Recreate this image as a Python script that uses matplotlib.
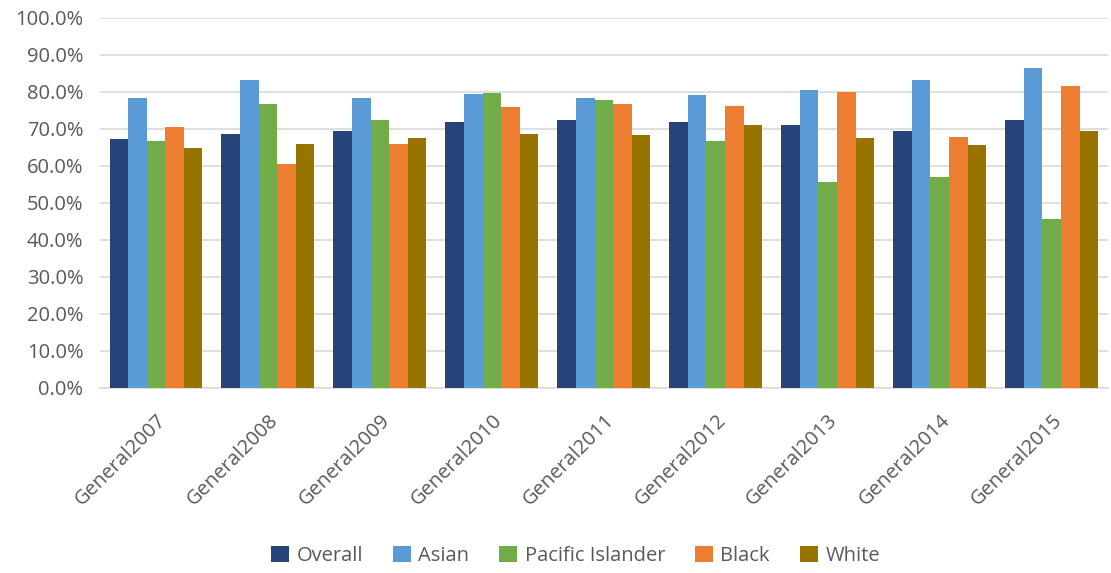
import matplotlib
matplotlib.use("Agg")
import matplotlib.pyplot as plt
import numpy as np
from matplotlib.ticker import FuncFormatter, MultipleLocator

categories = ["General2007", "General2008", "General2009", "General2010", "General2011",
              "General2012", "General2013", "General2014", "General2015"]
series_names = ["Overall", "Asian", "Pacific Islander", "Black", "White"]
overall = [67.3, 68.7, 69.5, 71.9, 72.5, 71.9, 71.0, 69.4, 72.5]
asian = [78.2, 83.2, 78.4, 79.3, 78.2, 79.1, 80.5, 83.2, 86.3]
pacific = [66.7, 76.8, 72.5, 79.8, 77.7, 66.7, 55.5, 56.9, 45.5]
black = [70.4, 60.5, 66.0, 75.9, 76.6, 76.1, 79.9, 67.8, 81.6]
white = [64.8, 65.9, 67.6, 68.6, 68.2, 70.9, 67.6, 65.7, 69.5]
colors = ["#264478", "#5B9BD5", "#70AD47", "#ED7D31", "#997300"]

plt.rcParams['font.family'] = ['Open Sans', 'DejaVu Sans']

fig = plt.figure(figsize=(11.11, 5.73), dpi=100)
ax = fig.add_axes([0.09, 0.323, 0.907, 0.646])

data = [overall, asian, pacific, black, white]
x = np.arange(len(categories))
bw = 0.166
for i, (vals, name, c) in enumerate(zip(data, series_names, colors)):
    ax.bar(x + (i - 2) * bw, vals, width=bw, color=c, label=name, zorder=3)

ax.set_xlim(-0.5, len(categories) - 0.5)
ax.set_ylim(0, 100)
ax.yaxis.set_major_locator(MultipleLocator(10))
ax.yaxis.set_major_formatter(FuncFormatter(lambda v, p: f"{v:.1f}%"))
ax.grid(axis='y', color='#D9D9D9', linewidth=1.2, zorder=0)
for s in ['top', 'right', 'left']:
    ax.spines[s].set_visible(False)
ax.spines['bottom'].set_color('#D9D9D9')
ax.spines['bottom'].set_linewidth(1.2)
ax.tick_params(axis='both', length=0, labelcolor='#595959', labelsize=14.5)
ax.tick_params(axis='y', pad=12)
ax.set_xticks(x)
ax.set_xticklabels(categories, rotation=45, ha='right', rotation_mode='anchor')
ax.tick_params(axis='x', pad=16)

leg = fig.legend(loc='center', bbox_to_anchor=(0.518, 0.03), ncol=5, frameon=False,
                 fontsize=14.5, handlelength=0.9, handleheight=0.9, handletextpad=0.35,
                 columnspacing=1.5)
for t in leg.get_texts():
    t.set_color('#595959')

fig.savefig("out.png", dpi=100)
